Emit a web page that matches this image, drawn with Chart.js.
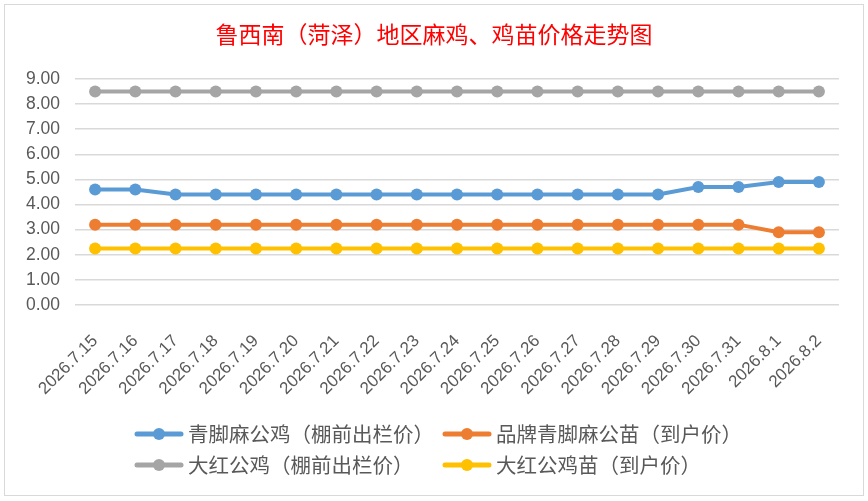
<!DOCTYPE html>
<html>
<head>
<meta charset="utf-8">
<script src="https://cdn.jsdelivr.net/npm/chart.js@4.4.1/dist/chart.umd.min.js"></script>
<style>
html,body{margin:0;padding:0;background:#fff;}
#wrap{position:absolute;left:0;top:0;width:868px;height:501px;}
</style>
</head>
<body>
<div id="wrap"><canvas id="c"></canvas></div>
<script>
const chartTitle = '鲁西南（菏泽）地区麻鸡、鸡苗价格走势图';
const categories = ['2026.7.15','2026.7.16','2026.7.17','2026.7.18','2026.7.19','2026.7.20','2026.7.21','2026.7.22','2026.7.23','2026.7.24','2026.7.25','2026.7.26','2026.7.27','2026.7.28','2026.7.29','2026.7.30','2026.7.31','2026.8.1','2026.8.2'];
const seriesNames = ['青脚麻公鸡（棚前出栏价）','品牌青脚麻公苗（到户价）','大红公鸡（棚前出栏价）','大红公鸡苗（到户价）'];
const qingjiaoRooster = [4.6,4.6,4.4,4.4,4.4,4.4,4.4,4.4,4.4,4.4,4.4,4.4,4.4,4.4,4.4,4.7,4.7,4.9,4.9];
const brandChick      = [3.2,3.2,3.2,3.2,3.2,3.2,3.2,3.2,3.2,3.2,3.2,3.2,3.2,3.2,3.2,3.2,3.2,2.9,2.9];
const redRooster      = [8.5,8.5,8.5,8.5,8.5,8.5,8.5,8.5,8.5,8.5,8.5,8.5,8.5,8.5,8.5,8.5,8.5,8.5,8.5];
const redChick        = [2.25,2.25,2.25,2.25,2.25,2.25,2.25,2.25,2.25,2.25,2.25,2.25,2.25,2.25,2.25,2.25,2.25,2.25,2.25];
const yMin = 0, yMax = 9, yStep = 1;

const colors = ['#5B9BD5','#ED7D31','#A5A5A5','#FFC000'];
const seriesValues = [qingjiaoRooster, brandChick, redRooster, redChick];

const frame = {
  id: 'frame',
  beforeDraw(chart) {
    const ctx = chart.ctx;
    ctx.save();
    ctx.fillStyle = '#ffffff';
    ctx.fillRect(0, 0, chart.width, chart.height);
    ctx.strokeStyle = '#d9d9d9';
    ctx.lineWidth = 1;
    ctx.strokeRect(4.5, 4.5, chart.width - 9, chart.height - 10);
    ctx.restore();
  },
  afterDraw(chart) {
    const ctx = chart.ctx;
    ctx.save();
    ctx.fillStyle = '#FF0000';
    ctx.font = '23px "Noto Sans CJK SC"';
    ctx.textAlign = 'center';
    ctx.textBaseline = 'middle';
    ctx.fillText(chartTitle, chart.width / 2, 34);
    ctx.restore();
  }
};

const gridLegend = {
  id: 'gridLegend',
  afterDraw(chart) {
    const ctx = chart.ctx;
    const pos = [[135, 434], [443, 434], [135, 465], [443, 465]];
    ctx.save();
    chart.data.datasets.forEach((ds, i) => {
      const [x, y] = pos[i];
      ctx.strokeStyle = ds.borderColor;
      ctx.lineWidth = 5;
      ctx.lineCap = 'round';
      ctx.beginPath();
      ctx.moveTo(x + 2, y);
      ctx.lineTo(x + 46, y);
      ctx.stroke();
      ctx.fillStyle = ds.borderColor;
      ctx.beginPath();
      ctx.arc(x + 24, y, 6, 0, Math.PI * 2);
      ctx.fill();
      ctx.fillStyle = '#595959';
      ctx.font = '20.5px "Noto Sans CJK SC"';
      ctx.textBaseline = 'middle';
      ctx.textAlign = 'left';
      ctx.fillText(ds.label, x + 53, y);
    });
    ctx.restore();
  }
};

new Chart(document.getElementById('c'), {
  type: 'line',
  data: {
    labels: categories,
    datasets: seriesNames.map((name, i) => ({
      label: name,
      data: seriesValues[i],
      borderColor: colors[i],
      backgroundColor: colors[i],
      pointBackgroundColor: colors[i],
      borderWidth: 4,
      pointRadius: 6,
      pointBorderWidth: 0,
      pointHoverRadius: 6,
      tension: 0,
      fill: false
    }))
  },
  options: {
    responsive: true,
    maintainAspectRatio: false,
    animation: false,
    layout: { padding: { left: 0, right: 29, top: 79, bottom: 96 } },
    plugins: {
      legend: { display: false },
      tooltip: { enabled: false },
      title: { display: false }
    },
    scales: {
      x: {
        type: 'category',
        offset: true,
        grid: { display: false, drawTicks: false },
        border: { display: false },
        ticks: {
          color: '#595959',
          font: { family: '"Liberation Sans"', size: 17 },
          minRotation: 45,
          maxRotation: 45,
          autoSkip: false,
          padding: 26
        },
        afterFit(s) { s.height = 100; }
      },
      y: {
        min: yMin,
        max: yMax,
        grid: { color: '#d9d9d9', lineWidth: 1.5, drawTicks: false },
        border: { display: false },
        ticks: {
          stepSize: yStep,
          color: '#595959',
          font: { family: '"Liberation Sans"', size: 17.5 },
          padding: 15,
          callback: v => Number(v).toFixed(2)
        },
        afterFit(s) { s.width = 75; }
      }
    }
  },
  plugins: [frame, gridLegend]
});
</script>
</body>
</html>
